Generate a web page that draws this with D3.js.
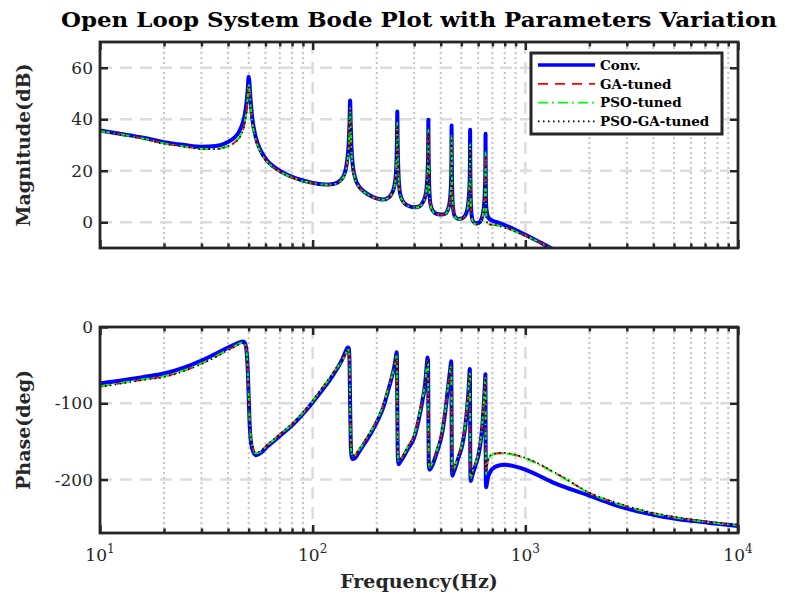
<!DOCTYPE html>
<html>
<head>
<meta charset="utf-8">
<script src="https://cdn.jsdelivr.net/npm/d3@7"></script>
<style>
  body { margin: 0; background: #fff; }
  svg { display: block; font-family: "DejaVu Serif", serif; }
</style>
</head>
<body>
<div id="chart"></div>
<script>
// frequency points (Hz), shared by every curve
var freqHz = [
  10, 13, 16, 20, 25, 30, 35, 40, 43, 45,
  47, 48, 49, 49.5, 50, 50.5, 51, 52, 54, 57,
  61, 66, 72, 80, 90, 100, 110, 120, 130, 138,
  143, 146, 148, 149, 150, 151, 152, 154, 158, 165,
  175, 190, 205, 215, 225, 235, 242, 246, 248, 249,
  250, 251, 252, 254, 258, 265, 280, 300, 315, 328,
  338, 344, 347, 349, 350, 351, 352, 354, 358, 367,
  385, 405, 420, 432, 440, 445, 448, 449, 450, 451,
  452, 454, 458, 467, 485, 505, 520, 532, 540, 545,
  548, 549, 550, 551, 552, 554, 558, 567, 585, 605,
  620, 632, 640, 645, 648, 649, 650, 651, 652, 654,
  658, 665, 680, 700, 750, 800, 900, 1000, 1200, 1330,
  1500, 2000, 2500, 3000, 4000, 5000, 6000, 7000, 8000, 10000
];

// magnitude (dB)
var magConv = [
  35.6, 34.1, 32.8, 31.1, 30.0, 29.3, 29.6, 31.2, 33.0, 35.0,
  38.8, 42.0, 47.5, 51.5, 56.5, 53.5, 48.0, 40.5, 33.0, 27.8,
  24.0, 21.4, 19.4, 17.6, 16.2, 15.3, 14.8, 14.7, 15.3, 17.2,
  20.5, 25.5, 32.0, 38.5, 47.3, 38.0, 30.5, 23.0, 17.5, 14.0,
  11.8, 10.0, 9.0, 8.8, 9.3, 11.0, 14.0, 18.5, 24.5, 31.0,
  43.0, 31.0, 24.0, 16.5, 11.0, 8.3, 6.5, 5.8, 6.0, 7.5,
  10.0, 14.0, 19.5, 27.0, 39.8, 27.0, 19.0, 12.0, 7.0, 4.5,
  3.2, 3.0, 3.3, 4.8, 7.5, 11.5, 17.5, 23.5, 37.6, 25.0,
  17.0, 10.0, 5.0, 2.2, 1.3, 1.5, 2.5, 4.5, 8.0, 12.5,
  18.0, 23.5, 35.9, 24.0, 16.0, 8.5, 3.5, 0.5, -0.4, -0.2,
  1.0, 3.5, 7.0, 12.0, 18.0, 23.5, 34.4, 22.0, 14.0, 7.0,
  4.5, 2.5, 1.2, 0.6, -0.2, -1.1, -3.0, -4.9, -8.2, -10.2,
  -12.2, -17.2, -21.0, -24.2, -29.0, -33.0, -36.0, -38.5, -40.8, -44.5
];
var magGA = [
  35.4, 33.9, 32.5, 30.6, 29.4, 28.5, 28.4, 29.6, 31.0, 32.6,
  35.8, 38.8, 44.0, 48.5, 53.5, 51.0, 46.0, 39.0, 32.0, 27.0,
  23.5, 21.0, 19.1, 17.4, 16.0, 15.2, 14.7, 14.6, 15.1, 16.8,
  19.8, 24.2, 30.0, 36.0, 44.0, 35.5, 28.5, 22.0, 17.0, 13.7,
  11.6, 9.9, 8.9, 8.7, 9.2, 10.8, 13.5, 17.5, 22.5, 28.0,
  38.2, 28.0, 22.0, 15.5, 10.6, 8.1, 6.4, 5.7, 5.9, 7.3,
  9.7, 13.3, 18.0, 24.5, 35.6, 24.5, 17.5, 11.3, 6.7, 4.3,
  3.1, 2.9, 3.2, 4.6, 7.1, 10.7, 16.0, 21.0, 33.0, 22.5,
  15.5, 9.3, 4.7, 2.0, 1.1, 1.3, 2.3, 4.2, 7.4, 11.5,
  16.0, 20.5, 29.8, 21.0, 14.5, 7.8, 3.1, 0.1, -0.8, -0.6,
  0.6, 3.0, 6.3, 10.8, 16.0, 20.0, 26.6, 19.0, 12.5, 6.0,
  0.5, -0.4, -0.8, -0.9, -1.3, -2.0, -3.6, -5.2, -8.3, -10.3,
  -12.3, -17.3, -21.1, -24.3, -29.1, -33.1, -36.1, -38.6, -40.9, -44.6
];
var magPSO = [
  35.4, 33.9, 32.5, 30.6, 29.4, 28.5, 28.5, 29.7, 31.1, 32.8,
  36.0, 39.0, 44.3, 48.8, 53.8, 51.2, 46.2, 39.1, 32.1, 27.1,
  23.5, 21.0, 19.1, 17.4, 16.0, 15.2, 14.7, 14.6, 15.1, 16.9,
  19.9, 24.4, 30.3, 36.4, 44.5, 35.9, 28.8, 22.2, 17.1, 13.7,
  11.6, 9.9, 8.9, 8.7, 9.2, 10.9, 13.6, 17.7, 22.8, 28.4,
  38.8, 28.4, 22.3, 15.7, 10.7, 8.1, 6.4, 5.7, 5.9, 7.3,
  9.8, 13.4, 18.2, 24.8, 36.0, 24.8, 17.7, 11.4, 6.7, 4.3,
  3.1, 2.9, 3.2, 4.6, 7.2, 10.8, 16.2, 21.3, 33.5, 22.8,
  15.7, 9.4, 4.7, 2.0, 1.1, 1.3, 2.3, 4.2, 7.5, 11.7,
  16.2, 20.8, 30.3, 21.3, 14.7, 7.9, 3.1, 0.1, -0.8, -0.6,
  0.6, 3.0, 6.4, 10.9, 16.2, 20.3, 27.2, 19.4, 12.7, 6.1,
  0.5, -0.4, -0.8, -0.9, -1.3, -2.0, -3.6, -5.2, -8.3, -10.3,
  -12.3, -17.3, -21.1, -24.3, -29.1, -33.1, -36.1, -38.6, -40.9, -44.6
];
var magPSOGA = [
  35.3, 33.8, 32.4, 30.5, 29.3, 28.4, 28.4, 29.5, 30.9, 32.5,
  35.6, 38.6, 43.7, 48.2, 53.2, 50.7, 45.8, 38.9, 31.9, 26.9,
  23.4, 20.9, 19.0, 17.3, 16.0, 15.1, 14.7, 14.6, 15.0, 16.7,
  19.7, 24.0, 29.8, 35.7, 43.6, 35.2, 28.3, 21.9, 16.9, 13.6,
  11.5, 9.8, 8.9, 8.7, 9.1, 10.7, 13.4, 17.3, 22.2, 27.7,
  37.8, 27.7, 21.8, 15.4, 10.5, 8.0, 6.4, 5.7, 5.8, 7.2,
  9.6, 13.2, 17.8, 24.2, 35.2, 24.2, 17.3, 11.2, 6.6, 4.2,
  3.1, 2.9, 3.2, 4.5, 7.0, 10.6, 15.8, 20.8, 32.6, 22.2,
  15.3, 9.2, 4.6, 2.0, 1.1, 1.3, 2.2, 4.1, 7.3, 11.3,
  15.8, 20.2, 29.4, 20.7, 14.3, 7.7, 3.0, 0.0, -0.9, -0.7,
  0.5, 2.9, 6.2, 10.6, 15.8, 19.7, 26.2, 18.7, 12.3, 5.9,
  0.4, -0.5, -0.9, -1.0, -1.4, -2.1, -3.7, -5.3, -8.4, -10.4,
  -12.4, -17.4, -21.2, -24.4, -29.2, -33.2, -36.2, -38.7, -41.0, -44.7
];

// phase (deg)
var phaseConv = [
  -74, -69.5, -65.5, -61, -53, -44, -35, -27, -23, -20.5,
  -19, -21, -35, -55, -90, -125, -145, -160, -168, -165,
  -157, -149, -140, -129, -114, -99, -84, -70, -55, -42,
  -32, -27, -28, -45, -100, -150, -167, -173, -172, -164,
  -153, -137, -119, -105, -86, -67, -52, -40, -33, -40,
  -105, -160, -175, -180, -177, -172, -160, -145, -122, -97,
  -74, -50, -40, -45, -108, -165, -182, -187, -186, -180,
  -163, -141, -112, -82, -63, -51, -45, -52, -112, -170,
  -190, -195, -192, -186, -171, -155, -134, -107, -85, -65,
  -55, -60, -118, -175, -197, -202, -199, -192, -180, -165,
  -145, -118, -95, -77, -65, -62, -105, -170, -200, -210,
  -207, -199, -191, -186, -181.5, -180.5, -183, -187, -197, -203,
  -209, -221, -231, -238, -246, -251, -254, -256, -258, -261
];
var phaseGA = [
  -78, -73, -69, -65, -57, -48, -39, -30, -25.5, -22.5,
  -21, -23, -36, -55, -88, -120, -140, -156, -165, -163,
  -155, -147, -138, -127, -112, -97, -81, -67, -53, -44,
  -35, -30, -31, -46, -98, -145, -162, -169, -168, -161,
  -150, -134, -116, -102, -83, -65, -53, -43, -37, -43,
  -103, -155, -170, -176, -174, -169, -157, -142, -119, -94,
  -73, -52, -44, -49, -106, -160, -177, -183, -182, -177,
  -160, -138, -109, -80, -64, -54, -50, -56, -110, -165,
  -185, -191, -188, -182, -168, -152, -131, -104, -84, -67,
  -59, -64, -115, -170, -192, -198, -195, -188, -177, -162,
  -142, -115, -93, -78, -69, -67, -105, -160, -185, -192,
  -186, -177, -170, -167, -165.5, -165.5, -168, -172, -182, -189,
  -197, -217.5, -228, -235, -244, -249, -252.5, -255, -257, -259.5
];
var phasePSO = [
  -77.5, -72.5, -68.5, -64.5, -56.5, -47.5, -38.5, -29.5, -25, -22,
  -20.5, -22.5, -35.5, -55, -88.5, -121, -141, -156.5, -165.5, -163.5,
  -155.5, -147.5, -138.5, -127.5, -112.5, -97.5, -81.5, -67.5, -53.5, -44,
  -35, -30, -31, -46.5, -99, -146, -163, -169.5, -168.5, -161.5,
  -150.5, -134.5, -116.5, -102.5, -83.5, -65.5, -53, -43, -37, -43.5,
  -104, -156, -171, -176.5, -174.5, -169.5, -157.5, -142.5, -119.5, -94.5,
  -73, -52, -44, -49.5, -107, -161, -178, -183.5, -182.5, -177.5,
  -160.5, -138.5, -109.5, -80.5, -64, -54, -50, -56.5, -111, -166,
  -186, -191.5, -188.5, -182.5, -168.5, -152.5, -131.5, -104.5, -84, -67,
  -59, -64.5, -116, -171, -193, -198.5, -195.5, -188.5, -177.5, -162.5,
  -142.5, -115.5, -93, -78, -69, -67, -106, -161, -186, -193,
  -186.5, -177.5, -170.5, -167.5, -166, -166, -168.5, -172.5, -182.5, -189.5,
  -197.5, -218, -228.5, -235.5, -244.5, -249.5, -253, -255.5, -257.5, -260
];
var phasePSOGA = [
  -78.5, -73.5, -69.5, -65.5, -57.5, -48.5, -39.5, -30.5, -26, -23,
  -21.5, -23.5, -36.5, -54.5, -87.5, -119, -139, -155.5, -164.5, -162.5,
  -154.5, -146.5, -137.5, -126.5, -111.5, -96.5, -80.5, -66.5, -52.5, -43.5,
  -34.5, -29.5, -30.5, -45.5, -97, -144, -161, -168.5, -167.5, -160.5,
  -149.5, -133.5, -115.5, -101.5, -82.5, -64.5, -52.5, -42.5, -36.5, -42.5,
  -102, -154, -169, -175.5, -173.5, -168.5, -156.5, -141.5, -118.5, -93.5,
  -72.5, -51.5, -43.5, -48.5, -105, -159, -176, -182.5, -181.5, -176.5,
  -159.5, -137.5, -108.5, -79.5, -63.5, -53.5, -49.5, -55.5, -109, -164,
  -184, -190.5, -187.5, -181.5, -167.5, -151.5, -130.5, -103.5, -83.5, -66.5,
  -58.5, -63.5, -114, -169, -191, -197.5, -194.5, -187.5, -176.5, -161.5,
  -141.5, -114.5, -92.5, -77.5, -68.5, -66.5, -104, -159, -184, -191,
  -185.5, -176.5, -169.5, -166.5, -165, -165, -167.5, -171.5, -181.5, -188.5,
  -196.5, -217, -227.5, -234.5, -243.5, -248.5, -252, -254.5, -256.5, -259
];

var seriesNames = ["Conv.", "GA-tuned", "PSO-tuned", "PSO-GA-tuned"];
var freqTicks = [10, 100, 1000, 10000];
var magTicks = [0, 20, 40, 60];
var phaseTicks = [-200, -100, 0];

// line styles, same order as seriesNames
var lineColor = ["#0000ff", "#ff0000", "#00ff00", "#000000"];
var lineWidth = [4, 1.8, 1.8, 1.6];
var lineDash = [null, "10,7", "10,4,2,4", "1.5,3.5"];

var W = 785, H = 599;
var plotLeft = 100, plotRight = 738;
var axisColor = "#262626";

var svg = d3.select("#chart").append("svg").attr("width", W).attr("height", H);
var defs = svg.append("defs");

var x = d3.scaleLog().domain([10, 10000]).range([plotLeft, plotRight]);
var isDecade = function (f) { return Math.abs(Math.log10(f) - Math.round(Math.log10(f))) < 1e-9; };
var minorFreq = x.ticks().filter(function (f) { return !isDecade(f); });

function drawPanel(top, bottom, yDomain, yTicks, seriesData, withXLabels) {
  var y = d3.scaleLinear().domain(yDomain).range([bottom, top]);
  var g = svg.append("g");
  var clipId = "clip" + top;

  defs.append("clipPath").attr("id", clipId).append("rect")
    .attr("x", plotLeft).attr("y", top)
    .attr("width", plotRight - plotLeft).attr("height", bottom - top);

  // minor grid (dotted)
  g.selectAll(".minor-grid").data(minorFreq).enter().append("line")
    .attr("x1", x).attr("x2", x).attr("y1", top).attr("y2", bottom)
    .attr("stroke", "#c4c4c4").attr("stroke-width", 2).attr("stroke-dasharray", "2,3");

  // major grid (dashed)
  g.selectAll(".major-vgrid").data(freqTicks.slice(1, -1)).enter().append("line")
    .attr("x1", x).attr("x2", x).attr("y1", top).attr("y2", bottom)
    .attr("stroke", "#dcdcdc").attr("stroke-width", 2.5).attr("stroke-dasharray", "12,8");
  g.selectAll(".major-hgrid").data(yTicks.filter(function (v) { return y(v) > top + 1 && y(v) < bottom - 1; }))
    .enter().append("line")
    .attr("x1", plotLeft).attr("x2", plotRight).attr("y1", y).attr("y2", y)
    .attr("stroke", "#dcdcdc").attr("stroke-width", 2.5).attr("stroke-dasharray", "12,8");

  // curves
  var curves = g.append("g").attr("clip-path", "url(#" + clipId + ")");
  seriesData.forEach(function (vals, i) {
    var line = d3.line()
      .x(function (d, j) { return x(freqHz[j]); })
      .y(function (d) { return y(d); })
      .curve(d3.curveMonotoneX);
    curves.append("path")
      .attr("d", line(vals))
      .attr("fill", "none")
      .attr("stroke", lineColor[i])
      .attr("stroke-width", lineWidth[i])
      .attr("stroke-dasharray", lineDash[i])
      .attr("stroke-linejoin", "round");
  });

  // ticks on all four sides, pointing inward
  var axes = g.append("g");
  axes.append("g").attr("transform", "translate(0," + bottom + ")")
    .call(d3.axisBottom(x).tickValues(minorFreq).tickSize(-4.5).tickFormat(""));
  axes.append("g").attr("transform", "translate(0," + bottom + ")")
    .call(d3.axisBottom(x).tickValues(freqTicks).tickSize(-8).tickFormat(""));
  axes.append("g").attr("transform", "translate(0," + top + ")")
    .call(d3.axisTop(x).tickValues(minorFreq).tickSize(-4.5).tickFormat(""));
  axes.append("g").attr("transform", "translate(0," + top + ")")
    .call(d3.axisTop(x).tickValues(freqTicks).tickSize(-8).tickFormat(""));
  axes.append("g").attr("transform", "translate(" + plotLeft + ",0)")
    .call(d3.axisLeft(y).tickValues(yTicks).tickSize(-8).tickFormat(""));
  axes.append("g").attr("transform", "translate(" + plotRight + ",0)")
    .call(d3.axisRight(y).tickValues(yTicks).tickSize(-8).tickFormat(""));
  axes.selectAll(".domain").remove();
  axes.selectAll(".tick line").attr("stroke", axisColor).attr("stroke-width", 2.5);

  g.append("rect")
    .attr("x", plotLeft).attr("y", top)
    .attr("width", plotRight - plotLeft).attr("height", bottom - top)
    .attr("fill", "none").attr("stroke", axisColor).attr("stroke-width", 2.8);

  // y tick labels
  g.selectAll(".ylab").data(yTicks).enter().append("text")
    .attr("x", plotLeft - 7).attr("y", y).attr("dy", "0.36em")
    .attr("text-anchor", "end").attr("font-size", 17).attr("fill", axisColor)
    .text(function (d) { return d; });

  if (withXLabels) {
    var lab = g.selectAll(".xlab").data(freqTicks).enter().append("text")
      .attr("x", x).attr("y", bottom + 28)
      .attr("text-anchor", "middle").attr("font-size", 17).attr("fill", axisColor);
    lab.append("tspan").text("10");
    lab.append("tspan").attr("dy", -8).attr("font-size", 12)
      .text(function (d) { return Math.round(Math.log10(d)); });
  }
  return g;
}

var magPanel = drawPanel(42, 248, [-10, 70], magTicks, [magConv, magGA, magPSO, magPSOGA], false);
drawPanel(327, 533, [-270, 0], phaseTicks, [phaseConv, phaseGA, phasePSO, phasePSOGA], true);

// legend
var legend = magPanel.append("g").attr("transform", "translate(531,53)");
legend.append("rect").attr("width", 191).attr("height", 81)
  .attr("fill", "#fff").attr("stroke", axisColor).attr("stroke-width", 3);
var rows = legend.selectAll(".row").data(seriesNames).enter().append("g")
  .attr("transform", function (d, i) { return "translate(0," + (12 + i * 18.8) + ")"; });
rows.append("line").attr("x1", 7).attr("x2", 64).attr("y1", 0).attr("y2", 0)
  .attr("stroke", function (d, i) { return lineColor[i]; })
  .attr("stroke-width", function (d, i) { return i === 0 ? 3.5 : lineWidth[i]; })
  .attr("stroke-dasharray", function (d, i) { return lineDash[i]; });
rows.append("text").attr("x", 69).attr("y", 0).attr("dy", "0.35em")
  .attr("font-size", 13.5).attr("font-weight", "bold").attr("fill", "#000")
  .text(function (d) { return d; });

// titles
svg.append("text").attr("x", 419).attr("y", 27).attr("text-anchor", "middle")
  .attr("font-size", 20).attr("font-weight", "bold").attr("fill", "#000")
  .attr("textLength", 716).attr("lengthAdjust", "spacingAndGlyphs")
  .text("Open Loop System Bode Plot with Parameters Variation");
svg.append("text").attr("x", 419).attr("y", 588).attr("text-anchor", "middle")
  .attr("font-size", 19).attr("font-weight", "bold").attr("fill", axisColor)
  .text("Frequency(Hz)");
svg.append("text").attr("transform", "translate(30,145) rotate(-90)").attr("text-anchor", "middle")
  .attr("font-size", 19).attr("font-weight", "bold").attr("fill", axisColor)
  .text("Magnitude(dB)");
svg.append("text").attr("transform", "translate(30,430) rotate(-90)").attr("text-anchor", "middle")
  .attr("font-size", 19).attr("font-weight", "bold").attr("fill", axisColor)
  .text("Phase(deg)");
</script>
</body>
</html>
